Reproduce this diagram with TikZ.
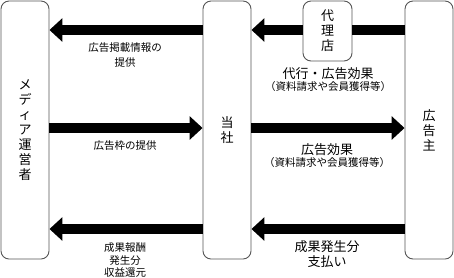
\documentclass[tikz,border=0pt]{standalone}
\usepackage{fontspec}
\setmainfont{Noto Sans CJK JP}
\usetikzlibrary{arrows.meta,positioning}
\definecolor{edge}{HTML}{555555}

\begin{document}
\begin{tikzpicture}[x=1pt,y=-1pt,
    box/.style={draw=edge,line width=0.9pt,rounded corners=8pt,align=center,
      font=\fontsize{13pt}{15pt}\selectfont},
    fat/.style={line width=10pt,-{Triangle[length=13pt,width=23pt]}},
    bar/.style={line width=10pt},
    lbl/.style={align=center,inner sep=0pt}]
  \useasboundingbox (0,0) rectangle (454,277);
  % parties
  \node[box,minimum width=48pt,minimum height=258pt] (media) at (25,130)
    {メ\\デ\\ィ\\ア\\運\\営\\者};
  \node[box,minimum width=48pt,minimum height=258pt] (self) at (227,130) {当\\社};
  \node[box,minimum width=48pt,minimum height=258pt] (client) at (429,130)
    {広\\告\\主};
  \node[box,minimum width=49pt,minimum height=60pt,fill=white] (agent) at (327.5,31)
    {代\\理\\店};
  % rows of the arrows
  \foreach \n/\y in {rowA/30,rowB/128,rowC/229}
    \coordinate (\n) at (0,\y);
  \draw[fat] (self.west |- rowA) -- (media.east |- rowA);
  \draw[bar] (client.west |- rowA) -- (agent.east |- rowA);
  \draw[fat] (agent.west |- rowA) -- (self.east |- rowA);
  \draw[fat] (media.east |- rowB) -- (self.west |- rowB);
  \draw[fat] (self.east |- rowB) -- (client.west |- rowB);
  \draw[fat] (self.west |- rowC) -- (media.east |- rowC);
  \draw[fat] (client.west |- rowC) -- (self.east |- rowC);
  % labels
  \node[lbl,font=\fontsize{10.5pt}{15pt}\selectfont] (infoA) at (125,54.5)
    {広告掲載情報の\\提供};
  \node[lbl,font=\fontsize{10.5pt}{13pt}\selectfont] (infoB) at (125,146) {広告枠の提供};
  \node[lbl,font=\fontsize{10.5pt}{12.5pt}\selectfont] (infoC) at (125,260)
    {成果報酬\\発生分\\収益還元};
  \node[lbl] (effA) at (328,80)
    {\fontsize{13pt}{16pt}\selectfont 代行・広告効果\\
     \fontsize{10.5pt}{16pt}\selectfont （資料請求や会員獲得等）};
  \node[lbl] (effB) at (327,155.5)
    {\fontsize{13pt}{13pt}\selectfont 広告効果\\
     \fontsize{10.5pt}{13pt}\selectfont （資料請求や会員獲得等）};
  \node[lbl,font=\fontsize{13pt}{15pt}\selectfont] (pay) at (327,254.5)
    {成果発生分\\支払い};
\end{tikzpicture}
\end{document}
